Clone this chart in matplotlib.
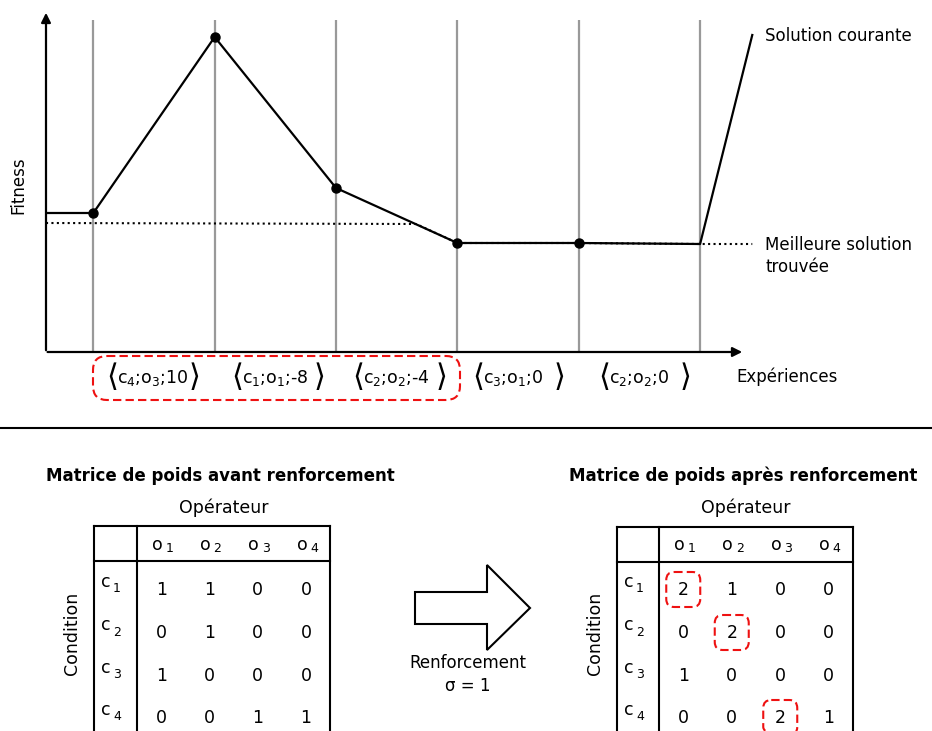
import matplotlib
matplotlib.use("Agg")
import matplotlib.pyplot as plt
from matplotlib.patches import FancyBboxPatch, Polygon

plt.rcParams["font.family"] = ["DejaVu Sans"]
plt.rcParams["mathtext.fontset"] = "dejavusans"

W, H = 932, 731

# --- top chart data (fitness in arbitrary units, experiments at x = 1..6) ---
x_start = 0.61
cur_x = [x_start, 1, 2, 3, 4, 5, 6, 6.43]
cur_y = [139, 139, 315, 164, 109, 109, 108, 317]
pts_x = [1, 2, 3, 4, 5]
pts_y = [139, 315, 164, 109, 109]
best_x = [x_start, 3.66, 4, 5, 6, 6.43]
best_y = [129, 128, 109, 109, 108, 108]
exp_pos = [1, 2, 3, 4, 5, 6]

exp_labels = [r"c$_4$;o$_3$;10", r"c$_1$;o$_1$;-8", r"c$_2$;o$_2$;-4",
              r"c$_3$;o$_1$;0", r"c$_2$;o$_2$;0"]

# --- weight matrices ---
op_names = ["o", "o", "o", "o"]
op_idx = ["1", "2", "3", "4"]
cond_names = ["c", "c", "c", "c"]
cond_idx = ["1", "2", "3", "4"]
before = [[1, 1, 0, 0],
          [0, 1, 0, 0],
          [1, 0, 0, 0],
          [0, 0, 1, 1]]
after = [[2, 1, 0, 0],
         [0, 2, 0, 0],
         [1, 0, 0, 0],
         [0, 0, 2, 1]]
reinforced = [(0, 0), (1, 1), (3, 2)]

fig = plt.figure(figsize=(W / 100, H / 100), dpi=100)

# layout axes in pixel coordinates
lay = fig.add_axes([0, 0, 1, 1])
lay.set_xlim(0, W)
lay.set_ylim(H, 0)
lay.axis("off")

# chart axes: px 46..932 horizontally, px 0..352 vertically
ax = fig.add_axes([46 / W, 1 - 352 / H, (W - 46) / W, 352 / H])
ax.patch.set_alpha(0)
ax.set_xlim(x_start, 1 + (W - 93) / 121.4)
ax.set_ylim(0, 352)
ax.axis("off")

ax.vlines(exp_pos, 0, 332, color="#999999", lw=1.6, zorder=1)
ax.plot(best_x, best_y, ls=(0, (1, 1.6)), color="black", lw=1.5, zorder=2)
ax.plot(cur_x, cur_y, color="black", lw=1.6, zorder=3)
ax.plot(pts_x, pts_y, "o", color="black", ms=6.5, zorder=4, clip_on=False)

arrow = dict(arrowstyle="-|>", color="black", lw=1.6, mutation_scale=14)
ax.annotate("", xy=(x_start, 342), xytext=(x_start, -1), arrowprops=arrow)
ax.annotate("", xy=(6.37, 0), xytext=(x_start - 0.01, 0), arrowprops=arrow)

lay.text(18, 185, "Fitness", rotation=90, ha="center", va="center", fontsize=12)
lay.text(765, 36, "Solution courante", ha="left", va="center", fontsize=12)
lay.text(765, 245, "Meilleure solution", ha="left", va="center", fontsize=12)
lay.text(765, 267, "trouvée", ha="left", va="center", fontsize=12)
lay.text(736, 377, "Expériences", ha="left", va="center", fontsize=12)

# experiment tuples under the axis
left_br = [106, 231, 352, 472, 598]
right_br = [189, 314, 436, 554, 680]
for lab, lb, rb in zip(exp_labels, left_br, right_br):
    lay.text(lb, 378, "⟨", ha="left", va="center", fontsize=22)
    lay.text(lb + 11, 378, lab, ha="left", va="center", fontsize=12.5)
    lay.text(rb, 378, "⟩", ha="left", va="center", fontsize=22)

red = "#ee1111"
dash = (0, (4, 2))
lay.add_patch(FancyBboxPatch((93, 356), 367, 44,
                             boxstyle="round,pad=0,rounding_size=14",
                             fill=False, ec=red, lw=1.5, ls=dash))

# separator
lay.plot([0, W], [428, 428], color="black", lw=1.5)


def draw_matrix(left, sep, right, top, head, title, title_x, mat, boxes):
    lay.text(title_x, 476, title, ha="center", va="center", fontsize=12,
             fontweight="bold")
    lay.text((sep + right) / 2 - 10, 508, "Opérateur", ha="center", va="center",
             fontsize=12.5)
    lay.text(left - 22, 633, "Condition", rotation=90, ha="center", va="center",
             fontsize=12.5)
    for xv in (left, sep, right):
        lay.plot([xv, xv], [top, H + 2], color="black", lw=1.5)
    lay.plot([left, right], [top, top], color="black", lw=1.5)
    lay.plot([left, right], [head, head], color="black", lw=1.5)
    cw = (right - sep) / 4
    cols = [sep + (i + 0.5) * cw for i in range(4)]
    rows = [590, 633, 676, 718]
    for c, name, idx in zip(cols, op_names, op_idx):
        lay.text(c - 4, 545, name, ha="center", va="center", fontsize=12.5)
        lay.text(c + 8, 549, idx, ha="center", va="center", fontsize=9)
    for r, name, idx in zip(rows, cond_names, cond_idx):
        lay.text(left + 12, r - 8, name, ha="center", va="center", fontsize=12.5)
        lay.text(left + 23, r - 1, idx, ha="center", va="center", fontsize=9)
    for i, r in enumerate(rows):
        for j, c in enumerate(cols):
            lay.text(c, r, str(mat[i][j]), ha="center", va="center",
                     fontsize=12.5)
    for i, j in boxes:
        lay.add_patch(FancyBboxPatch((cols[j] - 17, rows[i] - 18), 34, 35,
                                     boxstyle="round,pad=0,rounding_size=8",
                                     fill=False, ec=red, lw=1.5, ls=dash))


draw_matrix(94, 137, 330, 526, 561, "Matrice de poids avant renforcement", 220,
            before, [])
draw_matrix(617, 659, 853, 527, 562, "Matrice de poids après renforcement", 743,
            after, reinforced)

# reinforcement arrow
lay.add_patch(Polygon([(415, 592), (487, 592), (487, 565), (530, 608),
                       (487, 650), (487, 624), (415, 624)],
                      closed=True, fc="white", ec="black", lw=1.5))
lay.text(468, 663, "Renforcement", ha="center", va="center", fontsize=12)
lay.text(468, 686, "σ = 1", ha="center", va="center", fontsize=12)

fig.savefig("out.png", dpi=100)
